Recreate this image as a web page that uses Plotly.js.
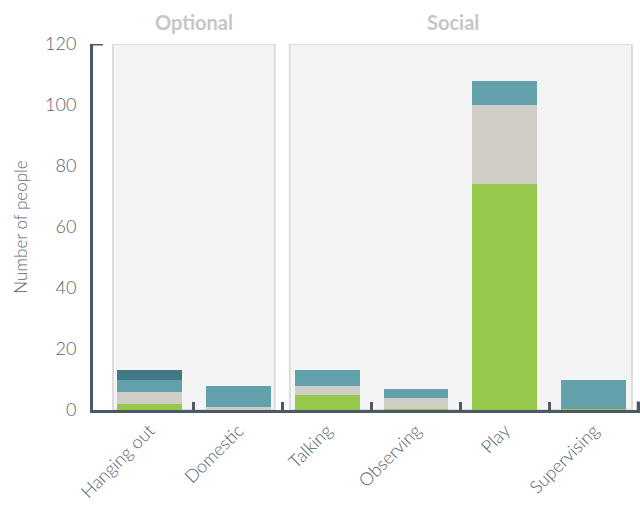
<!DOCTYPE html>
<html>
<head>
<meta charset="utf-8">
<script src="https://cdn.plot.ly/plotly-3.0.1.min.js"></script>
<style>html,body{margin:0;padding:0;background:#fff;}#chart{width:640px;height:506px;}</style>
</head>
<body>
<div id="chart"></div>
<script>
const categories = ["Hanging out", "Domestic", "Talking", "Observing", "Play", "Supervising"];
const groupNames = ["Optional", "Social"];
const groupSpans = [[-0.41, 1.41], [1.58, 5.43]];
const seriesNames = ["Series 1", "Series 2", "Series 3", "Series 4"];
const series1 = [2, 0, 5, 0.3, 74, 0.3];
const series2 = [4, 1, 3, 3.7, 26, 0];
const series3 = [4, 7, 5, 3, 8, 9.7];
const series4 = [3, 0, 0, 0, 0, 0];
const yTicks = [0, 20, 40, 60, 80, 100, 120];
const boundaryTicks = [0.5, 1.5, 2.5, 3.5, 4.5, 5.5];

const colors = ["#96c94b", "#d0cdc7", "#62a0ab", "#417886"];
const allSeries = [series1, series2, series3, series4];
const axisColor = "#4a5963";
const textColor = "#56636c";
const font = "Lato, 'Open Sans', sans-serif";
const xRange = [-0.635, 5.52];

const traces = allSeries.map((vals, i) => ({
  type: "bar",
  x: categories,
  y: vals,
  name: seriesNames[i],
  marker: {color: colors[i], line: {width: 0}},
  hoverinfo: "x+y+name"
}));
traces.push({type: "scatter", x: [boundaryTicks[0]], y: [0], xaxis: "x2", mode: "markers",
  marker: {opacity: 0}, hoverinfo: "skip", showlegend: false});

const shapes = groupSpans.map(s => ({
  type: "rect", xref: "x", yref: "y", x0: s[0], x1: s[1], y0: 0, y1: 120,
  fillcolor: "#f4f4f4", line: {color: "#dcdcdc", width: 2}, layer: "below"
}));
shapes.push({type: "line", xref: "paper", yref: "y", x0: 0, x1: 0.018, y0: 120, y1: 120,
  line: {color: axisColor, width: 3}});
const lastTick = boundaryTicks[boundaryTicks.length - 1];
shapes.push({type: "line", xref: "x2", yref: "y", x0: lastTick, x1: lastTick, y0: 0, y1: 2.8,
  line: {color: axisColor, width: 3}});

const annotations = groupNames.map((g, i) => ({
  text: g, xref: "x", yref: "paper",
  x: i === 0 ? (groupSpans[0][0] + groupSpans[0][1]) / 2 : 3.42,
  y: 1.0, yshift: 22, yanchor: "middle", showarrow: false,
  font: {family: font, size: 20, color: "#c6c6c6", weight: "bold"}
}));

const layout = {
  width: 640, height: 506,
  margin: {l: 93, r: 0, t: 44, b: 96},
  paper_bgcolor: "#ffffff", plot_bgcolor: "#ffffff",
  barmode: "stack", bargap: 0.27, showlegend: false,
  font: {family: font, color: textColor},
  xaxis: {
    type: "category", range: xRange,
    showline: true, linecolor: axisColor, linewidth: 3,
    ticks: "", showgrid: false, zeroline: false, automargin: false,
    tickangle: -45, tickfont: {family: font, size: 18, color: textColor, weight: 300}
  },
  xaxis2: {
    overlaying: "x", type: "linear", range: xRange, side: "bottom",
    tickvals: boundaryTicks, showticklabels: false, ticks: "inside",
    ticklen: 8, tickwidth: 3, tickcolor: axisColor, showgrid: false,
    zeroline: false, showline: false
  },
  yaxis: {
    range: [0, 120], tickvals: yTicks, showgrid: false, zeroline: false,
    showline: true, linecolor: axisColor, linewidth: 3, ticks: "",
    ticklabelstandoff: 10, automargin: false,
    tickfont: {family: font, size: 18, color: textColor, weight: 300},
    title: {text: "Number of people", font: {family: font, size: 17, color: textColor, weight: 300}, standoff: 14}
  },
  shapes: shapes,
  annotations: annotations
};

Plotly.newPlot("chart", traces, layout, {displayModeBar: false, staticPlot: true});
</script>
</body>
</html>
